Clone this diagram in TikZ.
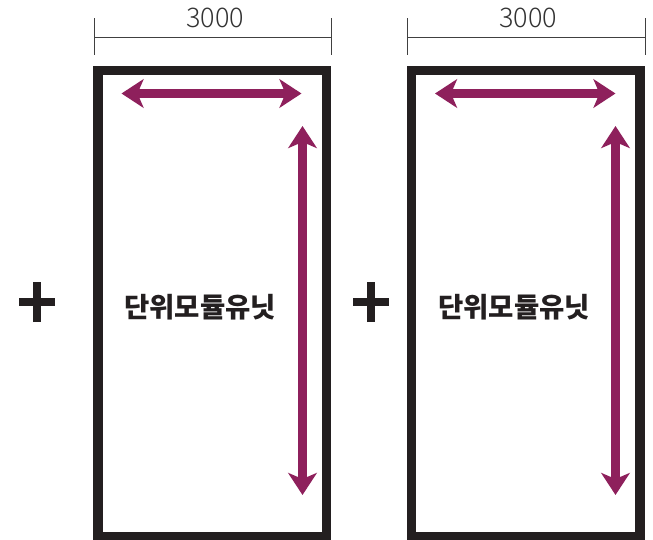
\documentclass[tikz,border=0pt]{standalone}
\usepackage{fontspec}
\setmainfont{Noto Sans CJK KR}
\newfontfamily\dimfont{Noto Sans CJK KR Light}
\usepackage{tikz}
\usetikzlibrary{arrows.meta,positioning}
\definecolor{boxblack}{RGB}{35,31,32}
\definecolor{plum}{RGB}{142,32,92}

\begin{document}
\begin{tikzpicture}[x=1pt,y=-1pt]
\tikzstyle{unitbox}=[draw=boxblack,line width=9.5pt]
\tikzstyle{span}=[draw=plum,line width=8.5pt,{Stealth[length=22pt,width=28.5pt,inset=6pt]}-{Stealth[length=22pt,width=28.5pt,inset=6pt]}]
\tikzstyle{dimline}=[draw=black!75,line width=0.9pt]
\tikzstyle{label}=[font=\fontsize{27.5}{30}\selectfont\bfseries,text=boxblack]
\tikzstyle{dimlabel}=[font=\dimfont\fontsize{27}{30}\selectfont,text=black!80]
\tikzstyle{plus}=[draw=boxblack,line width=8.5pt]
\useasboundingbox (0,0) rectangle (653,539);

% left unit
\draw[unitbox] (98,70.5) rectangle (326.5,537);
\coordinate (lh1) at (121.5,93.5); \coordinate (lh2) at (301.5,93.5);
\coordinate (lv1) at (302.5,126); \coordinate (lv2) at (302.5,495);
\draw[span] (lh1) -- (lh2);
\draw[span] (lv1) -- (lv2);
\node[label] (lunit) at (200,307) {단위모듈유닛};
\coordinate (ld1) at (94,18); \coordinate (ld2) at (94,55);
\coordinate (ld3) at (331,18); \coordinate (ld4) at (331,55);
\coordinate (ldl) at (94,37); \coordinate (ldr) at (331,37);
\draw[dimline] (ld1) -- (ld2) (ld3) -- (ld4) (ldl) -- (ldr);
\node[dimlabel] (ldim) at (215,18) {3000};
\coordinate (lp) at (37,302);
\draw[plus] ([xshift=-18pt]lp) -- ([xshift=18pt]lp) ([yshift=-20pt]lp) -- ([yshift=20pt]lp);

% right unit
\draw[unitbox] (411.5,70.5) rectangle (640,537);
\coordinate (rh1) at (435,93.5); \coordinate (rh2) at (615.5,93.5);
\coordinate (rv1) at (615.5,126); \coordinate (rv2) at (615.5,495);
\draw[span] (rh1) -- (rh2);
\draw[span] (rv1) -- (rv2);
\node[label] (runit) at (514,307) {단위모듈유닛};
\coordinate (rd1) at (407,18); \coordinate (rd2) at (407,55);
\coordinate (rd3) at (645,18); \coordinate (rd4) at (645,55);
\coordinate (rdl) at (407,37); \coordinate (rdr) at (645,37);
\draw[dimline] (rd1) -- (rd2) (rd3) -- (rd4) (rdl) -- (rdr);
\node[dimlabel] (rdim) at (528,18) {3000};
\coordinate (rp) at (371,302);
\draw[plus] ([xshift=-18pt]rp) -- ([xshift=18pt]rp) ([yshift=-20pt]rp) -- ([yshift=20pt]rp);
\end{tikzpicture}
\end{document}
